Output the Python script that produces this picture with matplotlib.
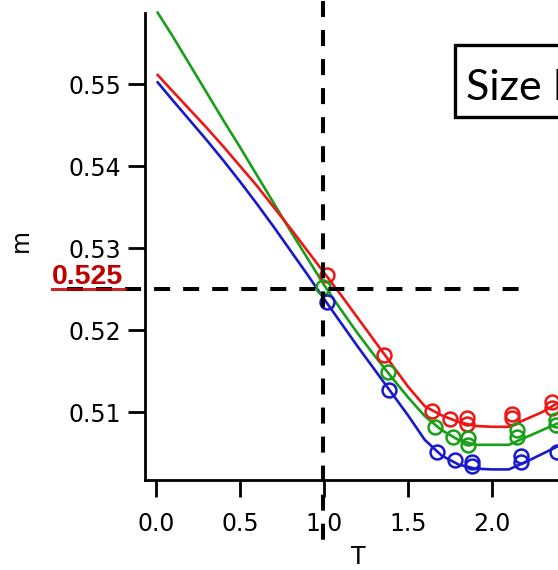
import matplotlib
matplotlib.use('Agg')
import matplotlib.pyplot as plt
from matplotlib.lines import Line2D
from matplotlib.patches import Rectangle

# ---------------- data ----------------
T_line = [0.01, 0.1, 0.2, 0.3, 0.4, 0.5, 0.6, 0.7, 0.8, 0.9, 1.0, 1.1, 1.2, 1.3, 1.4, 1.5,
          1.6, 1.7, 1.8, 1.9, 2.0, 2.1, 2.2, 2.3, 2.4]
m_red_line = [0.5511, 0.5491, 0.5469, 0.5447, 0.5424, 0.5400, 0.5376, 0.5350, 0.5324, 0.5297,
              0.5270, 0.5243, 0.5215, 0.5187, 0.5159, 0.5131, 0.5107, 0.5096, 0.5088, 0.5083,
              0.5082, 0.5082, 0.5091, 0.5100, 0.5112]
m_green_line = [0.5587, 0.5558, 0.5524, 0.5490, 0.5456, 0.5423, 0.5389, 0.5355, 0.5321, 0.5288,
                0.5255, 0.5225, 0.5196, 0.5169, 0.5143, 0.5118, 0.5095, 0.5078, 0.5066, 0.5060,
                0.5060, 0.5060, 0.5069, 0.5078, 0.5087]
m_blue_line = [0.5502, 0.5480, 0.5456, 0.5432, 0.5407, 0.5381, 0.5354, 0.5326, 0.5297, 0.5268,
               0.5238, 0.5209, 0.5180, 0.5152, 0.5124, 0.5096, 0.5066, 0.5047, 0.5036, 0.5031,
               0.5030, 0.5030, 0.5039, 0.5049, 0.5059]

T_red_pts = [1.02, 1.36, 1.64, 1.75, 1.85, 1.85, 2.12, 2.12, 2.36, 2.36]
m_red_pts = [0.5267, 0.5170, 0.5101, 0.5092, 0.5093, 0.5085, 0.5098, 0.5093, 0.5112, 0.5105]
T_green_pts = [0.995, 1.38, 1.66, 1.77, 1.86, 1.86, 2.15, 2.15, 2.38, 2.38]
m_green_pts = [0.5252, 0.5149, 0.5082, 0.5070, 0.5068, 0.5060, 0.5078, 0.5070, 0.5090, 0.5084]
T_blue_pts = [1.02, 1.387, 1.67, 1.78, 1.88, 1.88, 2.17, 2.17, 2.39]
m_blue_pts = [0.5234, 0.5127, 0.5051, 0.5041, 0.5039, 0.5034, 0.5046, 0.5039, 0.5051]

x_ticks = [0.0, 0.5, 1.0, 1.5, 2.0]
x_tick_labels = ["0.0", "0.5", "1.0", "1.5", "2.0"]
y_ticks = [0.51, 0.52, 0.53, 0.54, 0.55]
y_tick_labels = ["0.51", "0.52", "0.53", "0.54", "0.55"]

T_ref = 0.995
m_ref = 0.525
ref_label = "0.525"
box_text = "Size L"

# ---------------- figure ----------------
W, H = 558, 570
fig = plt.figure(figsize=(W / 100, H / 100), dpi=100)
ax = fig.add_axes([145 / W, 1 - 480 / H, 1 - 145 / W, (480 - 13) / H])
ax.set_xlim(-0.0655, 2.393)
ax.set_ylim(0.50171, 0.55866)

red, green, blue = '#f01515', '#17a017', '#1818cc'
for T, m, c in [(T_line, m_green_line, green), (T_line, m_red_line, red), (T_line, m_blue_line, blue)]:
    ax.plot(T, m, color=c, lw=1.9, solid_joinstyle='round', clip_on=False)
for T, m, c in [(T_red_pts, m_red_pts, red), (T_green_pts, m_green_pts, green), (T_blue_pts, m_blue_pts, blue)]:
    ax.plot(T, m, ls='none', marker='o', ms=10, mfc='none', mec=c, mew=1.8)

# reference dashed lines
dash = (0, (3.97, 3.24))
ax.plot([T_ref, T_ref], [0.56012, 0.49415], color='black', lw=2.9, ls=dash, clip_on=False, zorder=5)
ax.plot([-0.530, 2.179], [m_ref, m_ref], color='black', lw=2.9, ls=dash, clip_on=False, zorder=5)

# spines / ticks
for s in ['top', 'right']:
    ax.spines[s].set_visible(False)
for s in ['left', 'bottom']:
    ax.spines[s].set_linewidth(2.0)
ax.set_xticks(x_ticks)
ax.set_xticklabels(x_tick_labels)
ax.set_yticks(y_ticks)
ax.set_yticklabels(y_tick_labels)
ax.tick_params(axis='both', direction='out', length=12, width=2.0, labelsize=17)
ax.tick_params(axis='x', pad=11)
ax.tick_params(axis='y', pad=5)

fig.text(21 / W, 1 - 240 / H, "m", rotation=90, ha='center', va='center', fontsize=17)
fig.text(358 / W, 1 - 557 / H, "T", ha='center', va='center', fontsize=17)

# red label with underline
fig.text(52 / W, 1 - 284 / H, ref_label, color='#c00000', fontsize=20.5, fontweight='bold',
         family='Liberation Sans', ha='left', va='baseline')
fig.add_artist(Line2D([52 / W, 125 / W], [1 - 289 / H, 1 - 289 / H], transform=fig.transFigure,
                      color='#c00000', lw=2.2, alpha=0.85, zorder=6))

# size box
fig.add_artist(Rectangle((455 / W, 1 - 117 / H), 150 / W, 72 / H, transform=fig.transFigure,
                         fill=True, facecolor='white', edgecolor='black', lw=2.4, clip_on=False))
fig.text(466 / W, 1 - 100 / H, box_text, fontsize=31, family='Lato', ha='left', va='baseline')

fig.savefig('out.png', dpi=100)
